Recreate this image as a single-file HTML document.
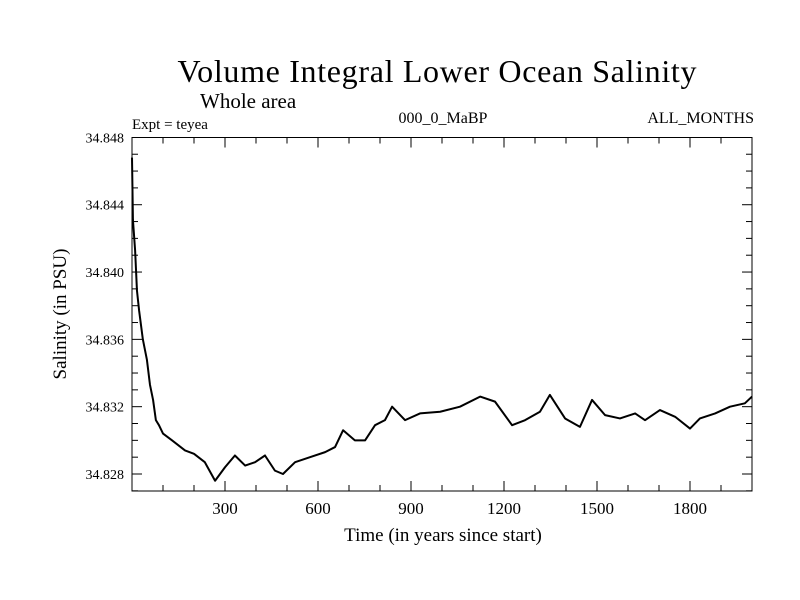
<!DOCTYPE html>
<html><head><meta charset="utf-8"><style>body{margin:0;background:#fff}svg{display:block}text{font-family:"Liberation Serif",serif;fill:#000}</style></head>
<body>
<svg id="chart" width="800" height="600" viewBox="0 0 800 600">
<rect width="800" height="600" fill="#fff"/>
<text x="437" y="82" font-size="32" text-anchor="middle" textLength="519">Volume Integral Lower Ocean Salinity</text>
<text x="200" y="108" font-size="21">Whole area</text>
<text x="132" y="129" font-size="15">Expt = teyea</text>
<text x="443" y="123" font-size="16" text-anchor="middle">000_0_MaBP</text>
<text x="754" y="123" font-size="16" text-anchor="end">ALL_MONTHS</text>
<g id="axes"></g>
<text x="443" y="541" font-size="19" text-anchor="middle">Time (in years since start)</text>
<text transform="translate(66,314) rotate(-90)" font-size="19" text-anchor="middle">Salinity (in PSU)</text>
</svg>
<script>
const years=[0,3,10,16,23,35,48,58,68,77,87,100,129,171,200,235,268,300,332,365,397,429,461,487,526,574,623,655,681,719,752,784,816,839,881,929,994,1058,1123,1171,1226,1268,1316,1348,1397,1445,1484,1526,1574,1623,1655,1703,1752,1800,1832,1881,1929,1977,2000];
const salinity=[34.8468,34.8431,34.8413,34.8389,34.8377,34.8360,34.8348,34.8333,34.8324,34.8312,34.8309,34.8304,34.8300,34.8294,34.8292,34.8287,34.8276,34.8284,34.8291,34.8285,34.8287,34.8291,34.8282,34.8280,34.8287,34.8290,34.8293,34.8296,34.8306,34.8300,34.8300,34.8309,34.8312,34.8320,34.8312,34.8316,34.8317,34.8320,34.8326,34.8323,34.8309,34.8312,34.8317,34.8327,34.8313,34.8308,34.8324,34.8315,34.8313,34.8316,34.8312,34.8318,34.8314,34.8307,34.8313,34.8316,34.8320,34.8322,34.8326];
const xTicks=[300,600,900,1200,1500,1800];
const yTicks=[34.828,34.832,34.836,34.840,34.844,34.848];
const L=132,R=752,T=137.5,B=491;
const X=v=>L+(v-0)/(2000-0)*(R-L);
const Y=v=>474-(v-34.828)/0.001*16.83;
const ns="http://www.w3.org/2000/svg";
const g=document.getElementById('axes');
function mk(t,a){const e=document.createElementNS(ns,t);for(const k in a)e.setAttribute(k,a[k]);g.appendChild(e);return e;}
const fr=mk('rect',{x:L,y:T,width:R-L,height:B-T,fill:'none',stroke:'#000','stroke-width':1});


for(let v=100;v<2000;v+=100){const major=v%300===0;const len=major?10:6;
const t1=mk('line',{x1:X(v),x2:X(v),y1:B,y2:B-len,stroke:'#000'});


const t2=mk('line',{x1:X(v),x2:X(v),y1:T,y2:T+len,stroke:'#000'});

}
xTicks.forEach(v=>{const t=mk('text',{x:X(v),y:514,'font-size':17,'text-anchor':'middle'});t.textContent=v;

});
for(let i=0;i<=20;i++){const v=34.828+(i-1)*0.001;const y=Y(v);if(y>B||y<T-0.5)continue;const major=(i-1)%4===0;const len=major?10:6;
const t1=mk('line',{x1:L,x2:L+len,y1:y,y2:y,stroke:'#000'});


const t2=mk('line',{x1:R,x2:R-len,y1:y,y2:y,stroke:'#000'});

}
yTicks.forEach(v=>{const t=mk('text',{x:124,y:Y(v)+5,'font-size':14,'text-anchor':'end'});t.textContent=v.toFixed(3);

});
const pl=mk('polyline',{points:years.map((y,i)=>X(y)+','+Y(salinity[i])).join(' '),fill:'none',stroke:'#000','stroke-width':2,'stroke-linejoin':'round'});


</script>
</body></html>
